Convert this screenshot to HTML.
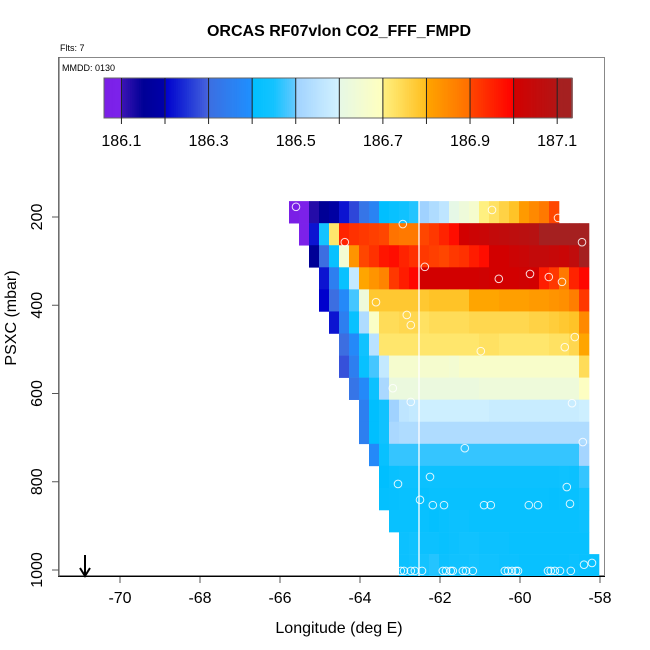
<!DOCTYPE html>
<html><head><meta charset="utf-8"><style>
body{margin:0;background:#fff;width:650px;height:650px;overflow:hidden}
svg{display:block;font-family:"Liberation Sans",sans-serif}
</style></head><body>
<svg id="chart" width="650" height="650" viewBox="0 0 650 650">
<text x="339" y="36" font-size="16" font-weight="bold" text-anchor="middle">ORCAS RF07vlon CO2_FFF_FMPD</text>
<text x="60" y="51" font-size="9">Flts: 7</text>
<rect x="58.5" y="57.5" width="546" height="518" fill="none" stroke="#888" stroke-width="1"/>
<text x="62" y="71" font-size="9">MMDD: 0130</text>
<g id="cbar"></g>
<g id="heat"></g>
<line x1="419" y1="201" x2="419" y2="576" stroke="#fff" stroke-width="1.3"/>
<g id="pts"></g>
<g id="axes"></g>
<line x1="58" y1="576.5" x2="605" y2="576.5" stroke="#000"/>
<line x1="59" y1="57" x2="59" y2="577" stroke="#555"/>
<g stroke="#000" stroke-width="2" fill="none">
<line x1="85" y1="555" x2="85" y2="576"/><polyline points="80,568 85,576 90,568"/></g>
<text x="339" y="633" font-size="16" text-anchor="middle">Longitude (deg E)</text>
<text transform="translate(16,318) rotate(-90)" font-size="16" text-anchor="middle">PSXC (mbar)</text>
</svg>
<script>
const xTicks=[-70,-68,-66,-64,-62,-60,-58];
const yTicks=[200,400,600,800,1000];
const cbTicks=[186.1,186.3,186.5,186.7,186.9,187.1];
const cbMin=186.06, cbMax=187.134;
// heatmap rows: top pressure of each 50-mbar bin, starting longitude, cell values
const rowP=[164,214,264,314,364,414,464,514,564,614,664,714,764,814,864,914,964];
const rowLon=[-65.775,-65.525,-65.275,-65.025,-65.025,-64.775,-64.525,-64.525,-64.275,-64.025,-64.025,-63.775,-63.525,-63.525,-63.275,-63.025,-63.025];
const rowVals=[
[186.06,186.08,186.12,186.15,186.18,186.22,186.27,186.32,186.36,186.40,186.42,186.44,186.46,186.50,186.53,186.56,186.60,186.63,186.66,186.70,186.73,186.76,186.79,186.82,186.85,186.88,186.90],
[186.08,186.22,186.45,186.72,186.95,186.93,186.92,186.91,186.90,186.89,186.88,186.88,186.90,186.92,186.95,186.98,187.00,187.02,187.03,187.05,187.06,187.07,187.08,187.09,187.10,187.11,187.12,187.12,187.13],
[186.15,186.30,186.42,186.65,186.83,186.90,186.93,186.97,186.98,186.95,186.93,186.92,186.91,186.90,186.92,186.93,186.96,186.98,187.00,187.00,187.02,187.03,187.05,187.05,187.04,187.03,187.06,187.10],
[186.22,186.35,186.42,186.57,186.80,186.83,186.86,186.92,186.96,186.99,187.00,187.00,187.00,187.00,187.00,187.00,187.01,187.00,187.00,187.00,187.01,187.00,186.96,186.92,186.88,186.95,186.99],
[186.20,186.30,186.38,186.48,186.63,186.78,186.78,186.78,186.78,186.78,186.78,186.79,186.79,186.79,186.79,186.80,186.80,186.80,186.81,186.81,186.81,186.82,186.82,186.83,186.84,186.87,186.92],
[186.22,186.35,186.42,186.53,186.68,186.74,186.74,186.75,186.75,186.73,186.74,186.74,186.74,186.74,186.75,186.75,186.75,186.75,186.75,186.75,186.76,186.76,186.77,186.78,186.79,186.85],
[186.30,186.38,186.44,186.55,186.72,186.72,186.72,186.72,186.72,186.72,186.72,186.72,186.72,186.72,186.73,186.73,186.72,186.72,186.72,186.72,186.72,186.73,186.73,186.75,186.80],
[186.28,186.35,186.42,186.48,186.57,186.66,186.66,186.66,186.66,186.66,186.66,186.65,186.67,186.67,186.67,186.67,186.67,186.67,186.67,186.67,186.67,186.67,186.67,186.67,186.74],
[186.32,186.38,186.43,186.52,186.62,186.62,186.62,186.62,186.62,186.62,186.62,186.62,186.62,186.63,186.63,186.63,186.63,186.63,186.63,186.63,186.63,186.63,186.63,186.69],
[186.35,186.40,186.44,186.50,186.56,186.57,186.59,186.59,186.59,186.59,186.59,186.59,186.59,186.58,186.58,186.58,186.58,186.58,186.58,186.58,186.58,186.58,186.59],
[186.35,186.40,186.44,186.52,186.53,186.53,186.53,186.53,186.53,186.53,186.53,186.53,186.53,186.53,186.53,186.53,186.53,186.53,186.53,186.53,186.53,186.53,186.53],
[186.38,186.42,186.47,186.47,186.47,186.47,186.47,186.47,186.47,186.47,186.47,186.47,186.47,186.47,186.47,186.47,186.47,186.47,186.47,186.47,186.47,186.51],
[186.40,186.42,186.43,186.43,186.43,186.43,186.43,186.43,186.43,186.43,186.43,186.43,186.43,186.43,186.43,186.43,186.43,186.43,186.435,186.43,186.47],
[186.41,186.415,186.42,186.42,186.415,186.42,186.42,186.42,186.42,186.42,186.42,186.42,186.42,186.42,186.42,186.42,186.42,186.415,186.42,186.42,186.445],
[186.42,186.42,186.42,186.42,186.41,186.42,186.43,186.43,186.42,186.42,186.42,186.42,186.42,186.42,186.42,186.42,186.42,186.42,186.42,186.43],
[186.43,186.44,186.43,186.43,186.42,186.43,186.44,186.44,186.43,186.43,186.43,186.42,186.42,186.42,186.42,186.42,186.42,186.42,186.42],
[186.43,186.44,186.45,186.46,186.43,186.44,186.44,186.45,186.44,186.44,186.43,186.43,186.42,186.42,186.42,186.42,186.42,186.43,186.42,186.42]
];
const ptLon=[-65.6,-62.93,-60.7,-59.05,-64.38,-58.45,-62.38,-60.53,-59.75,-59.28,-58.95,-63.6,-62.83,-62.73,-58.63,-58.88,-60.98,-63.18,-62.73,-58.7,-58.43,-61.38,-63.05,-62.25,-62.5,-62.18,-61.9,-60.9,-60.73,-59.78,-59.55,-58.83,-58.75,
-62.98,-62.9,-62.73,-62.63,-62.45,-61.93,-61.85,-61.73,-61.68,-61.43,-61.35,-61.18,-60.38,-60.3,-60.2,-60.1,-60.05,-59.3,-59.23,-59.13,-59.0,-58.73,-58.4,-58.2];
const ptP=[177,216,184,202,257,257,313,340,329,336,347,393,422,445,472,495,504,588,619,622,710,724,805,789,841,853,853,853,853,853,853,812,850,
1002,1002,1002,1002,1002,1002,1002,1002,1002,1002,1002,1002,1002,1002,1002,1002,1002,1002,1002,1002,1002,1002,988,984];

const X=lon=>120+(lon+70)*40;
const Y=p=>217+(p-200)*0.44125;
const CX=v=>104+(v-cbMin)/(cbMax-cbMin)*468;
const stops=[[186.06,[122,31,230]],[186.099,[125,35,235]],[186.1,[60,20,180]],[186.15,[0,0,150]],[186.199,[0,0,170]],[186.2,[0,0,205]],[186.25,[30,50,215]],[186.299,[70,100,220]],[186.3,[60,110,225]],[186.399,[30,144,255]],[186.4,[0,191,255]],[186.45,[20,195,255]],[186.499,[100,200,255]],[186.5,[160,210,255]],[186.599,[210,242,255]],[186.6,[230,248,230]],[186.699,[255,255,190]],[186.7,[255,240,128]],[186.799,[255,190,30]],[186.8,[255,165,0]],[186.899,[255,110,0]],[186.9,[255,70,0]],[186.999,[255,0,0]],[187.0,[210,0,0]],[187.099,[180,20,20]],[187.1,[165,32,32]],[187.2,[165,32,32]]];
function col(v){
  if(v<=stops[0][0])return 'rgb('+stops[0][1]+')';
  for(let i=1;i<stops.length;i++){if(v<=stops[i][0]){const a=stops[i-1],b=stops[i],t=(v-a[0])/(b[0]-a[0]);
  return 'rgb('+a[1].map((c,j)=>Math.round(c+(b[1][j]-c)*t)).join(',')+')';}}
  return 'rgb(165,32,32)';
}
const NS='http://www.w3.org/2000/svg';
function mk(tag,attrs,parent){const e=document.createElementNS(NS,tag);for(const k in attrs)e.setAttribute(k,attrs[k]);parent.appendChild(e);return e;}

// colorbar
const cb=document.getElementById('cbar');
for(let v=cbMin;v<cbMax;v+=0.005){
  const r=mk('rect',{x:CX(v),y:78,width:CX(v+0.005)-CX(v)+0.4,height:40,fill:col(v+0.0025)},cb);
  
  
}
mk('rect',{x:104,y:78,width:468,height:40,fill:'none',stroke:'#666'},cb);
for(let k=0;k<=10;k++){const v=186.1+k*0.1;const x=CX(v);
  const l=mk('line',{x1:x,y1:78,x2:x,y2:124,stroke:'#222','stroke-width':1},cb);
  
  
}
cbTicks.forEach(v=>{const t=mk('text',{x:CX(v),y:146,'font-size':16,'text-anchor':'middle'},cb);t.textContent=v.toFixed(1);
  
  });

// heatmap
const hm=document.getElementById('heat');
rowVals.forEach((vals,r)=>{
  vals.forEach((v,c)=>{
    const l0=rowLon[r]+c*0.25;
    const rc=mk('rect',{x:X(l0),y:Y(rowP[r]),width:X(l0+0.25)-X(l0)+0.3,height:Y(rowP[r]+50)-Y(rowP[r])+0.3,fill:col(v)},hm);
    
    
  });
});

// points
const pg=document.getElementById('pts');
ptLon.forEach((lon,i)=>{
  const c=mk('circle',{cx:X(lon),cy:Y(ptP[i]),r:3.8,fill:'none',stroke:'#fff','stroke-opacity':0.85,'stroke-width':1},pg);
  
  
});

// axes
const ax=document.getElementById('axes');
xTicks.forEach(v=>{const x=X(v);
  const l=mk('line',{x1:x,y1:576,x2:x,y2:583,stroke:'#555'},ax);
  
  
  const t=mk('text',{x:x,y:603,'font-size':16,'text-anchor':'middle'},ax);t.textContent=v;
  
  
});
yTicks.forEach(v=>{const y=Y(v);
  const l=mk('line',{x1:52,y1:y,x2:59,y2:y,stroke:'#555'},ax);
  
  
  const t=mk('text',{transform:'translate(42,'+y+') rotate(-90)','font-size':16,'text-anchor':'middle'},ax);t.textContent=v;
  
  
});
</script>
</body></html>
